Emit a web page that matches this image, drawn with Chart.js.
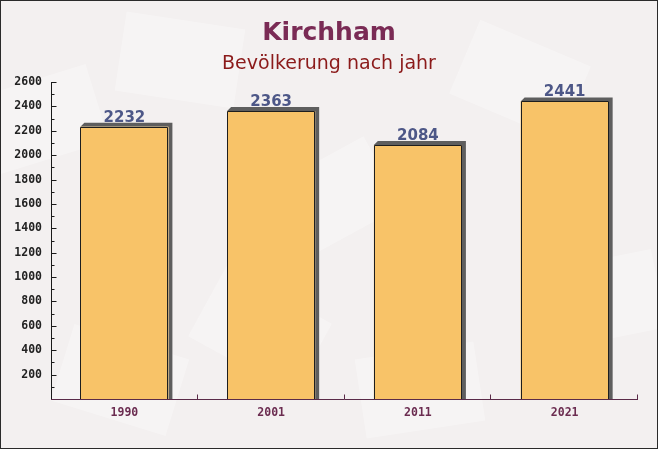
<!DOCTYPE html>
<html><head><meta charset="utf-8">
<script src="https://cdn.jsdelivr.net/npm/chart.js@4.4.0/dist/chart.umd.min.js"></script>
<style>html,body{margin:0;padding:0;background:#f3f0f0;}canvas{display:block;}</style>
</head><body>
<div style="width:658px;height:449px;position:relative"><canvas id="c" width="658" height="449"></canvas></div>
<script>
const categories = ["1990", "2001", "2011", "2021"];
const population = [2232, 2363, 2084, 2441];
const yTickStep = 100;
const yLabelStep = 200;
const yMax = 2600;
const titleText = "Kirchham";
const subtitleText = "Bevölkerung nach jahr";

const deco = {
  id: 'deco',
  beforeDraw(chart) {
    const {ctx, width, height} = chart;
    ctx.save();
    ctx.fillStyle = '#f3f0f0';
    ctx.fillRect(0, 0, width, height);
    // faint envelope-like background shapes
    ctx.fillStyle = 'rgba(255,255,255,0.3)';
    const shapes = [[40,120,-0.3],[180,60,0.15],[330,200,-0.5],[520,80,0.4],[600,300,-0.2],[120,380,0.3],[420,390,-0.15],[260,330,0.5]];
    shapes.forEach(([x,y,a]) => {
      ctx.save(); ctx.translate(x,y); ctx.rotate(a);
      ctx.fillRect(-60,-40,120,80);
      ctx.restore();
    });
    ctx.font = 'bold 25px "DejaVu Sans"';
    ctx.textAlign = 'center';
    ctx.textBaseline = 'alphabetic';
    ctx.fillStyle = '#7a2b55';
    ctx.fillText(titleText, width/2, 40);
    ctx.font = '19px "DejaVu Sans"';
    ctx.fillStyle = '#8b1a1a';
    ctx.fillText(subtitleText, width/2, 69);
    ctx.restore();
  },
  beforeDatasetsDraw(chart) {
    // 3D shadow behind bars
    const {ctx} = chart;
    const meta = chart.getDatasetMeta(0);
    ctx.save();
    ctx.fillStyle = '#5e5e5e';
    meta.data.forEach(b => {
      const l = b.x - b.width/2, r = b.x + b.width/2;
      ctx.beginPath();
      ctx.moveTo(l, b.y);
      ctx.lineTo(l+4, b.y-4);
      ctx.lineTo(r+4, b.y-4);
      ctx.lineTo(r+4, b.base);
      ctx.lineTo(r, b.base);
      ctx.lineTo(r, b.y);
      ctx.closePath();
      ctx.fill();
    });
    ctx.restore();
  },
  afterDatasetsDraw(chart) {
    const {ctx, chartArea} = chart;
    const x = chart.scales.x, y = chart.scales.y;
    const meta = chart.getDatasetMeta(0);
    ctx.save();
    // bar outlines (left, top, right)
    ctx.strokeStyle = '#1e1e1e';
    ctx.lineWidth = 1;
    meta.data.forEach(b => {
      const l = Math.round(b.x - b.width/2) + 0.5, r = Math.round(b.x + b.width/2) - 0.5;
      const t = Math.round(b.y) + 0.5;
      ctx.beginPath();
      ctx.moveTo(l, b.base); ctx.lineTo(l, t); ctx.lineTo(r, t); ctx.lineTo(r, b.base);
      ctx.stroke();
    });
    // value labels
    ctx.font = 'bold 15px "DejaVu Sans"';
    ctx.fillStyle = '#4d5787';
    ctx.textAlign = 'center';
    ctx.textBaseline = 'alphabetic';
    meta.data.forEach((b, i) => {
      ctx.fillText(String(population[i]), b.x, b.y - 5);
    });
    // y axis
    const ax = Math.round(chartArea.left) + 0.5;
    ctx.strokeStyle = '#1a1a1a';
    ctx.beginPath();
    ctx.moveTo(ax, chartArea.top); ctx.lineTo(ax, chartArea.bottom); ctx.stroke();
    for (let v = yTickStep; v <= yMax; v += yTickStep) {
      const py = Math.round(y.getPixelForValue(v)) + 0.5;
      const len = (v % yLabelStep === 0) ? 5 : 3;
      ctx.beginPath(); ctx.moveTo(ax, py); ctx.lineTo(ax + len, py); ctx.stroke();
    }
    // x axis
    const ay = Math.round(chartArea.bottom) + 0.5;
    ctx.strokeStyle = '#5a2a48';
    ctx.beginPath(); ctx.moveTo(chartArea.left, ay); ctx.lineTo(chartArea.right, ay); ctx.stroke();
    for (let i = 0; i < categories.length; i++) {
      const px = (i < categories.length - 1) ? (x.getPixelForValue(i) + x.getPixelForValue(i+1)) / 2 : chartArea.right;
      const rx = Math.round(px) - 0.5;
      ctx.beginPath(); ctx.moveTo(rx, ay); ctx.lineTo(rx, ay - 5); ctx.stroke();
    }
    ctx.restore();
  },
  afterDraw(chart) {
    const {ctx, width, height} = chart;
    ctx.save();
    ctx.strokeStyle = '#2a2a2a';
    ctx.lineWidth = 1;
    ctx.strokeRect(0.5, 0.5, width - 1, height - 1);
    ctx.restore();
  }
};

new Chart(document.getElementById('c'), {
  type: 'bar',
  data: {
    labels: categories,
    datasets: [{
      data: population,
      backgroundColor: 'rgba(248,192,96,0.95)',
      borderWidth: 0,
      barPercentage: 0.6,
      categoryPercentage: 1.0
    }]
  },
  options: {
    responsive: false,
    animation: false,
    devicePixelRatio: 1,
    layout: { padding: { top: 82, right: 20, left: 0, bottom: 0 } },
    plugins: { legend: { display: false }, tooltip: { enabled: false }, title: { display: false } },
    scales: {
      x: {
        grid: { display: false, drawTicks: false },
        border: { display: false },
        ticks: { color: '#6b2c50', font: { family: '"DejaVu Sans Mono"', weight: 'bold', size: 11.5 }, padding: 7 },
        afterFit: s => { s.height = 50; }
      },
      y: {
        min: 0, max: yMax,
        grid: { display: false, drawTicks: false },
        border: { display: false },
        ticks: {
          stepSize: yTickStep, autoSkip: false,
          color: '#222', padding: 9,
          font: { family: '"DejaVu Sans Mono"', weight: 'bold', size: 11.5 },
          callback: v => (v > 0 && v % yLabelStep === 0) ? String(v) : ''
        },
        afterFit: s => { s.width = 51; }
      }
    }
  },
  plugins: [deco]
});
</script>
</body></html>
